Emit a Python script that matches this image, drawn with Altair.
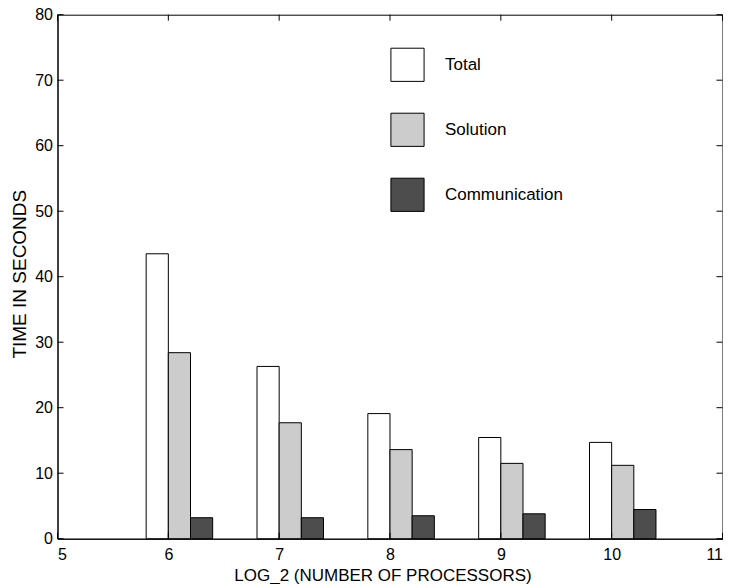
import altair as alt
import pandas as pd

procs = [6, 7, 8, 9, 10]
total = [43.5, 26.3, 19.1, 15.45, 14.7]
solution = [28.4, 17.7, 13.6, 11.5, 11.2]
communication = [3.2, 3.2, 3.5, 3.8, 4.45]
series_names = ["Total", "Solution", "Communication"]
series_colors = ["#ffffff", "#cccccc", "#4d4d4d"]
x_ticks = [5, 6, 7, 8, 9, 10, 11]
y_ticks = [0, 10, 20, 30, 40, 50, 60, 70, 80]

rows = []
for name, vals in zip(series_names, [total, solution, communication]):
    for p, v in zip(procs, vals):
        rows.append({"procs": p, "series": name, "value": v})
bars_df = pd.DataFrame(rows)
xt_df = pd.DataFrame({"t": x_ticks})
yt_df = pd.DataFrame({"t": y_ticks})

W, H = 665, 524
FONT = "Liberation Sans"

xscale = alt.Scale(domain=[5, 11], nice=False, zero=False)
yscale = alt.Scale(domain=[0, 80], nice=False)

bars = alt.Chart(bars_df).transform_calculate(
    off="datum.series === 'Total' ? -0.2 : (datum.series === 'Solution' ? 0 : 0.2)"
).transform_calculate(
    x1="datum.procs + datum.off", x2="datum.procs + datum.off + 0.2"
).mark_rect(stroke="black", strokeWidth=1).encode(
    x=alt.X("x1:Q", scale=xscale,
            axis=alt.Axis(values=x_ticks, format="d", title="LOG_2 (NUMBER OF PROCESSORS)",
                          labelPadding=8, titleX=325, titleY=42, titleBaseline="alphabetic",
                          titleAlign="center")),
    x2="x2:Q",
    y=alt.Y("value:Q", scale=yscale,
            axis=alt.Axis(values=y_ticks, format="d", title="TIME IN SECONDS",
                          titleFontSize=19, titleAngle=-90, titleX=-32.5, titleY=259,
                          titleBaseline="alphabetic", titleAlign="center")),
    y2=alt.datum(0),
    fill=alt.Fill("series:N", scale=alt.Scale(domain=series_names, range=series_colors),
                  legend=alt.Legend(title=None, orient="none", legendX=332.5, legendY=32.6,
                                    symbolType="square", symbolSize=1100,
                                    symbolStrokeColor="black", symbolStrokeWidth=1,
                                    labelFontSize=17, labelFont=FONT, labelOffset=20,
                                    rowPadding=26, padding=0, labelColor="black")),
)

left_ticks = alt.Chart(yt_df).mark_rule(color="black", strokeWidth=1).encode(
    y=alt.Y("t:Q", scale=yscale), x=alt.value(0), x2=alt.value(6))
right_ticks = alt.Chart(yt_df).mark_rule(color="black", strokeWidth=1).encode(
    y=alt.Y("t:Q", scale=yscale), x=alt.value(W), x2=alt.value(W - 6))
top_ticks = alt.Chart(xt_df).mark_rule(color="black", strokeWidth=1).encode(
    x=alt.X("t:Q", scale=xscale), y=alt.value(0), y2=alt.value(6))
bot_ticks = alt.Chart(xt_df).mark_rule(color="black", strokeWidth=1).encode(
    x=alt.X("t:Q", scale=xscale), y=alt.value(H), y2=alt.value(H - 6))

chart = alt.layer(bars, left_ticks, right_ticks, top_ticks, bot_ticks).properties(
    width=W, height=H,
    background="white",
    autosize=alt.AutoSizeParams(type="none"),
    padding={"left": 49.5, "top": 6.7, "right": 0, "bottom": 45},
).configure_view(stroke="black", strokeWidth=1).configure_axis(
    grid=False, tickSize=0, domainColor="black", domainWidth=1,
    labelFont=FONT, labelFontSize=16, labelColor="black", labelPadding=5,
    titleFont=FONT, titleFontSize=17, titleFontWeight="normal", titleColor="black",
)

chart.save("out.html", embed_options={"renderer": "svg", "actions": False})
